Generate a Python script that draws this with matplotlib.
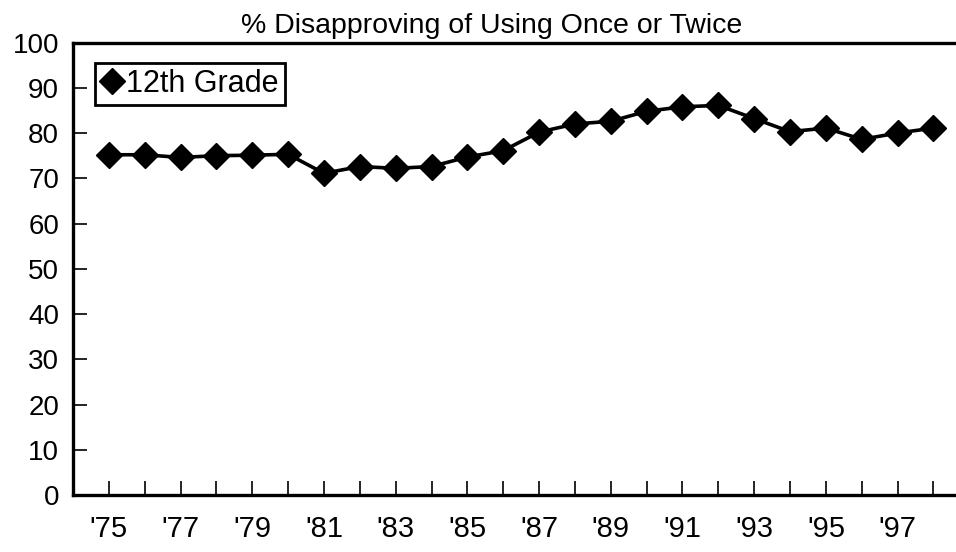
import matplotlib.pyplot as plt

plt.rcParams["font.family"] = ["Liberation Sans", "DejaVu Sans"]

ANOS = list(range(1975, 1999))
DESAPROVACAO = [75.2, 75.2, 74.6, 75.0, 75.1, 75.3, 71.1, 72.6, 72.2, 72.6,
                74.7, 76.1, 80.2, 82.0, 82.6, 84.8, 85.8, 86.1, 83.2, 80.3,
                81.1, 78.6, 80.0, 81.1]
ROTULOS_X = ["'75", "'77", "'79", "'81", "'83", "'85", "'87", "'89", "'91",
             "'93", "'95", "'97"]
TITULO = "% Disapproving of Using Once or Twice"
SERIE = "12th Grade"


def main():
    fig = plt.figure(figsize=(9.56, 5.52), dpi=100)
    ax = fig.add_axes([0.0764, 0.103, 0.93, 0.82])

    x = [a - 1900 for a in ANOS]
    ax.plot(x, DESAPROVACAO, color="black", linewidth=2.6, marker="D",
            markersize=13, label=SERIE)

    ax.set_xlim(74.0, 98.8)
    ax.set_ylim(0, 100)
    ax.set_yticks(range(0, 101, 10))
    ax.set_xticks(x)
    ax.set_xticklabels([ROTULOS_X[i // 2] if i % 2 == 0 else "" for i in range(len(x))])

    ax.tick_params(axis="both", direction="in", length=10, width=1.2,
                   labelsize=20, color="black")
    ax.tick_params(axis="x", pad=14)
    ax.tick_params(axis="y", pad=10)
    for rot in ax.get_xticklabels():
        rot.set_family(["Liberation Sans Narrow", "Liberation Sans"])
        rot.set_fontsize(21)
    for lado in ax.spines.values():
        lado.set_linewidth(2.4)
    ax.spines["right"].set_visible(False)

    fig.text(0.514, 0.953, TITULO, fontsize=20.5, ha="center", va="center")

    leg = ax.legend(loc="upper left", fontsize=22, handlelength=0.7,
                    handletextpad=0.12, borderpad=0.2, borderaxespad=0,
                    fancybox=False, framealpha=1, edgecolor="black",
                    bbox_to_anchor=(0.025, 0.955))
    leg.get_frame().set_linewidth(2.0)
    for h in leg.legend_handles:
        h.set_linestyle("none")

    fig.savefig("out.png", dpi=100)


if __name__ == "__main__":
    main()
